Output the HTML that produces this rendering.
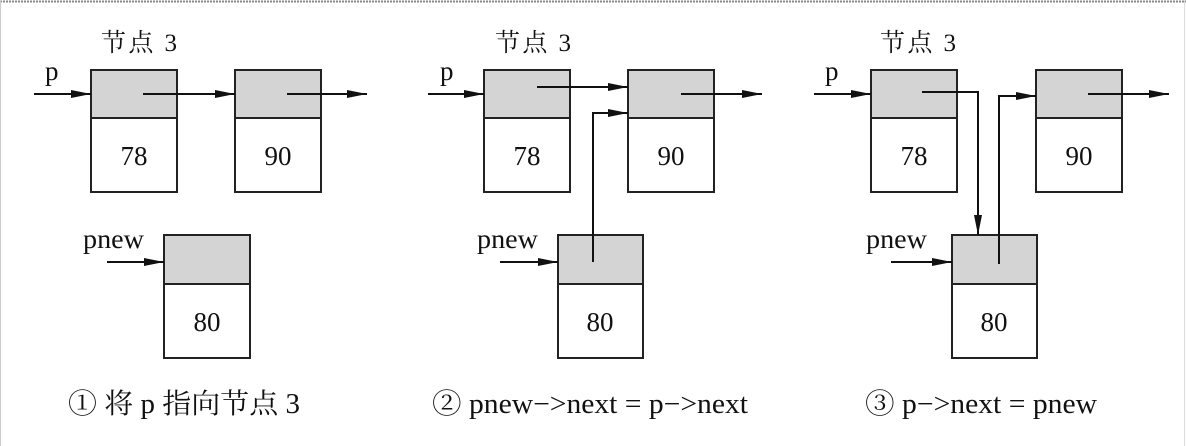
<!DOCTYPE html>
<html><head><meta charset="utf-8"><style>
html,body{margin:0;padding:0;background:#fff;}
svg{display:block;}
text{font-family:"Liberation Serif","Noto Serif CJK SC",serif;fill:#111;}
</style></head><body>
<svg width="1186" height="446" viewBox="0 0 1186 446" xmlns="http://www.w3.org/2000/svg">
<defs>
<marker id="a" markerWidth="20" markerHeight="8" refX="20" refY="4" orient="auto" markerUnits="userSpaceOnUse">
<path d="M0,0 L20,4 L0,8 Z" fill="#111"/>
</marker>
</defs>
<line x1="0" y1="1.5" x2="1186" y2="1.5" stroke="#888" stroke-width="2" stroke-dasharray="2,1"/>
<line x1="0.5" y1="0" x2="0.5" y2="446" stroke="#ccc" stroke-width="1"/>
<line x1="1184.5" y1="0" x2="1184.5" y2="446" stroke="#ddd" stroke-width="1"/>

<g stroke="#222" stroke-width="2">
<rect x="91" y="70" width="86" height="48" fill="#d4d4d4"/><rect x="91" y="118" width="86" height="74" fill="#fff"/>
<rect x="235" y="70" width="86" height="48" fill="#d4d4d4"/><rect x="235" y="118" width="86" height="74" fill="#fff"/>
<rect x="164" y="235" width="86" height="49" fill="#d4d4d4"/><rect x="164" y="284" width="86" height="74" fill="#fff"/>
<rect x="484" y="70" width="86" height="48" fill="#d4d4d4"/><rect x="484" y="118" width="86" height="74" fill="#fff"/>
<rect x="628" y="70" width="86" height="48" fill="#d4d4d4"/><rect x="628" y="118" width="86" height="74" fill="#fff"/>
<rect x="558" y="235" width="85" height="49" fill="#d4d4d4"/><rect x="558" y="284" width="85" height="74" fill="#fff"/>
<rect x="871" y="70" width="86" height="48" fill="#d4d4d4"/><rect x="871" y="118" width="86" height="74" fill="#fff"/>
<rect x="1036" y="70" width="86" height="48" fill="#d4d4d4"/><rect x="1036" y="118" width="86" height="74" fill="#fff"/>
<rect x="952" y="235" width="85" height="49" fill="#d4d4d4"/><rect x="952" y="284" width="85" height="74" fill="#fff"/>
</g>
<g stroke="#111" stroke-width="2" fill="none" marker-end="url(#a)">
<line x1="34" y1="94" x2="91" y2="94"/>
<line x1="143" y1="94" x2="235" y2="94"/>
<line x1="287" y1="94" x2="367" y2="94"/>
<line x1="107" y1="262" x2="164" y2="262"/>
<line x1="428" y1="94" x2="484" y2="94"/>
<line x1="537" y1="87" x2="628" y2="87"/>
<polyline points="593,262 593,113 628,113"/>
<line x1="681" y1="94" x2="762" y2="94"/>
<line x1="500" y1="262" x2="558" y2="262"/>
<line x1="814" y1="94" x2="871" y2="94"/>
<polyline points="922,92 978,92 978,235"/>
<polyline points="999,264 999,96 1036,96"/>
<line x1="1088" y1="94" x2="1169" y2="94"/>
<line x1="891" y1="262" x2="952" y2="262"/>
</g>

<g font-size="25">
<text x="101" y="51" textLength="76" lengthAdjust="spacing">节点 3</text>
<text x="495" y="51" textLength="76" lengthAdjust="spacing">节点 3</text>
<text x="880" y="51" textLength="76" lengthAdjust="spacing">节点 3</text>
</g>
<g font-size="27">
<text x="45" y="80">p</text>
<text x="440" y="80">p</text>
<text x="825" y="80">p</text>
<text x="83" y="248" textLength="61" lengthAdjust="spacingAndGlyphs">pnew</text>
<text x="477" y="248" textLength="61" lengthAdjust="spacingAndGlyphs">pnew</text>
<text x="866" y="248" textLength="61" lengthAdjust="spacingAndGlyphs">pnew</text>
<text x="134" y="165" text-anchor="middle">78</text>
<text x="278" y="165" text-anchor="middle">90</text>
<text x="207" y="331" text-anchor="middle">80</text>
<text x="527" y="165" text-anchor="middle">78</text>
<text x="671" y="165" text-anchor="middle">90</text>
<text x="600" y="331" text-anchor="middle">80</text>
<text x="914" y="165" text-anchor="middle">78</text>
<text x="1079" y="165" text-anchor="middle">90</text>
<text x="994" y="331" text-anchor="middle">80</text>
</g>
<g font-size="28">
<text x="68" y="413" textLength="232" lengthAdjust="spacingAndGlyphs">① 将 p 指向节点 3</text>
<text x="432" y="413" textLength="316" lengthAdjust="spacingAndGlyphs">② pnew−&gt;next = p−&gt;next</text>
<text x="865" y="413" textLength="232" lengthAdjust="spacingAndGlyphs">③ p−&gt;next = pnew</text>
</g>
</svg>
</body></html>
